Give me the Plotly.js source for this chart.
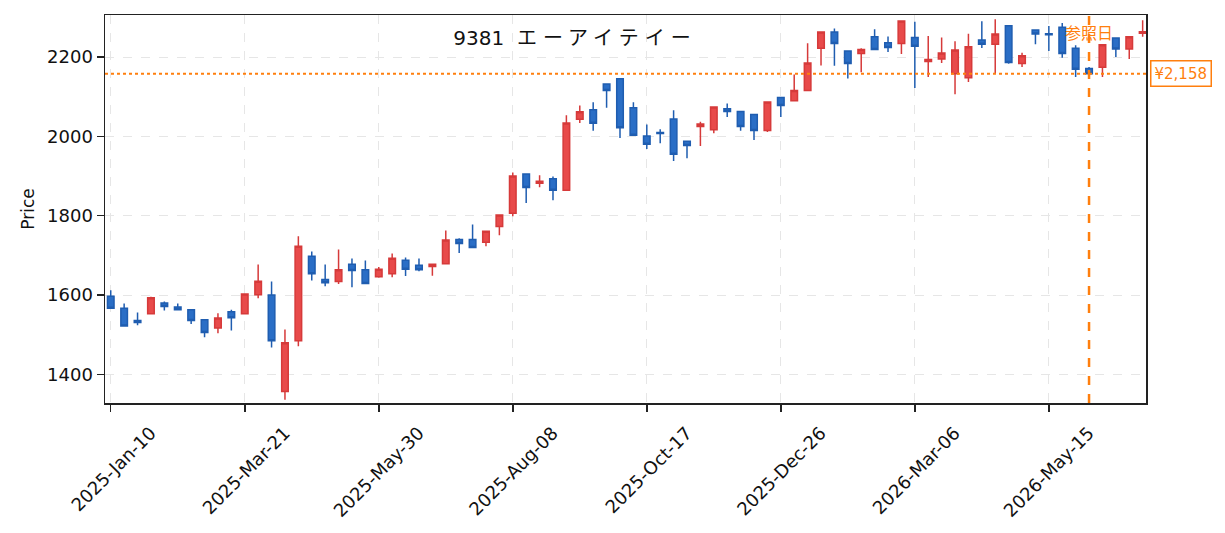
<!DOCTYPE html>
<html>
<head>
<meta charset="utf-8">
<script src="https://cdn.plot.ly/plotly-3.0.1.min.js"></script>
<style>
  html, body { margin: 0; padding: 0; background: #fff; }
  #chart { width: 1225px; height: 533px; }
</style>
</head>
<body>
<div id="chart"></div>
<script>
// Weekly candles, 9381 エーアイテイー
const dates = [
  '2025-01-10', '2025-01-17', '2025-01-24', '2025-01-31', '2025-02-07', '2025-02-14', '2025-02-21', '2025-02-28',
  '2025-03-07', '2025-03-14', '2025-03-21', '2025-03-28', '2025-04-04', '2025-04-11', '2025-04-18', '2025-04-25',
  '2025-05-02', '2025-05-09', '2025-05-16', '2025-05-23', '2025-05-30', '2025-06-06', '2025-06-13', '2025-06-20',
  '2025-06-27', '2025-07-04', '2025-07-11', '2025-07-18', '2025-07-25', '2025-08-01', '2025-08-08', '2025-08-15',
  '2025-08-22', '2025-08-29', '2025-09-05', '2025-09-12', '2025-09-19', '2025-09-26', '2025-10-03', '2025-10-10',
  '2025-10-17', '2025-10-24', '2025-10-31', '2025-11-07', '2025-11-14', '2025-11-21', '2025-11-28', '2025-12-05',
  '2025-12-12', '2025-12-19', '2025-12-26', '2026-01-02', '2026-01-09', '2026-01-16', '2026-01-23', '2026-01-30',
  '2026-02-06', '2026-02-13', '2026-02-20', '2026-02-27', '2026-03-06', '2026-03-13', '2026-03-20', '2026-03-27',
  '2026-04-03', '2026-04-10', '2026-04-17', '2026-04-24', '2026-05-01', '2026-05-08', '2026-05-15', '2026-05-22',
  '2026-05-29', '2026-06-05', '2026-06-12', '2026-06-19', '2026-06-26', '2026-07-03'
];

const open = [
  1597, 1567, 1536, 1553, 1580, 1570, 1563, 1538, 1517, 1558, 1553, 1601, 1600, 1357, 1485, 1698,
  1639, 1634, 1678, 1664, 1646, 1654, 1688, 1675, 1672, 1679, 1740, 1740, 1733, 1773, 1806, 1905,
  1882, 1893, 1864, 2043, 2067, 2132, 2145, 2072, 2001, 2010, 2044, 1988, 2025, 2017, 2070, 2063,
  2055, 2015, 2098, 2090, 2116, 2222, 2263, 2215, 2209, 2251, 2236, 2234, 2249, 2189, 2195, 2158,
  2148, 2243, 2232, 2279, 2184, 2268, 2259, 2275, 2222, 2171, 2174, 2248, 2220, 2260
];
const high = [
  1612, 1579, 1556, 1596, 1584, 1579, 1565, 1538, 1554, 1563, 1604, 1677, 1634, 1513, 1748, 1710,
  1677, 1715, 1692, 1687, 1671, 1705, 1695, 1692, 1678, 1763, 1743, 1778, 1762, 1802, 1909, 1905,
  1902, 1899, 2053, 2078, 2086, 2132, 2145, 2086, 2030, 2018, 2066, 1989, 2037, 2075, 2083, 2063,
  2055, 2087, 2098, 2156, 2235, 2264, 2272, 2216, 2222, 2270, 2252, 2292, 2289, 2253, 2249, 2240,
  2259, 2290, 2295, 2279, 2211, 2269, 2278, 2286, 2230, 2175, 2231, 2249, 2251, 2293
];
const low = [
  1566, 1521, 1524, 1552, 1561, 1562, 1527, 1494, 1504, 1511, 1552, 1592, 1468, 1336, 1471, 1637,
  1622, 1628, 1620, 1629, 1644, 1645, 1648, 1660, 1649, 1679, 1706, 1720, 1723, 1751, 1799, 1832,
  1872, 1839, 1863, 2034, 2014, 2072, 1996, 2003, 1968, 1983, 1938, 1945, 1976, 2008, 2049, 2014,
  1991, 2011, 2049, 2090, 2115, 2179, 2178, 2146, 2162, 2219, 2213, 2208, 2122, 2150, 2185, 2106,
  2137, 2223, 2158, 2183, 2175, 2232, 2215, 2198, 2150, 2147, 2150, 2200, 2195, 2251
];
const close = [
  1567, 1522, 1531, 1593, 1571, 1563, 1536, 1506, 1542, 1543, 1603, 1635, 1485, 1480, 1723, 1654,
  1631, 1664, 1662, 1629, 1665, 1693, 1665, 1664, 1678, 1739, 1730, 1720, 1761, 1802, 1900, 1871,
  1887, 1864, 2034, 2062, 2033, 2116, 2022, 2003, 1980, 2007, 1955, 1977, 2031, 2074, 2063, 2025,
  2015, 2087, 2078, 2116, 2185, 2263, 2234, 2184, 2219, 2219, 2224, 2291, 2227, 2194, 2210, 2218,
  2226, 2232, 2258, 2186, 2203, 2258, 2256, 2209, 2169, 2158, 2231, 2220, 2251, 2264
];

const tickDates = ['2025-01-10', '2025-03-21', '2025-05-30', '2025-08-08', '2025-10-17', '2025-12-26', '2026-03-06', '2026-05-15'];
const priceTicks = [1400, 1600, 1800, 2000, 2200];
const refDate = '2026-06-05';
const refPrice = 2158;
const refLabel = '¥2,158';
const ticker = '9381';
const companyName = 'エーアイテイー';

const FONT = '"DejaVu Sans", "Noto Sans CJK JP", sans-serif';
const CJK = '"Noto Sans CJK JP", "DejaVu Sans", sans-serif';
const ORANGE = '#ff7f0e';

const trace = {
    type: 'candlestick',
    x: dates,
    open: open,
    high: high,
    low: low,
    close: close,
    increasing: { line: { color: '#d63a3a', width: 1.5 }, fillcolor: '#e84a4a' },
    decreasing: { line: { color: '#1f5db0', width: 1.5 }, fillcolor: '#2a6ec6' },
    whiskerwidth: 0,
    hoverinfo: 'skip',
    showlegend: false
};

const axisStyle = {
    ticks: 'outside',
    ticklen: 7,
    tickwidth: 1.5,
    tickcolor: '#222',
    showline: true,
    mirror: true,
    linecolor: '#222',
    linewidth: 1.5,
    showgrid: true,
    gridcolor: '#e6e6e6',
    griddash: 'dash',
    gridwidth: 1,
    zeroline: false
};

const layout = {
    width: 1225,
    height: 533,
    margin: { l: 105, r: 79, t: 15, b: 130 },
    paper_bgcolor: '#ffffff',
    plot_bgcolor: '#ffffff',
    font: { family: FONT, color: '#111', size: 18 },
    showlegend: false,
    title: {
        text: ticker + '  <span style="letter-spacing:6px">' + companyName + '</span>',
        font: { family: FONT, size: 20, color: '#111' },
        xref: 'paper',
        x: 0.4515,
        xanchor: 'center',
        yref: 'container',
        y: 0.928,
        yanchor: 'middle'
    },
    xaxis: Object.assign({}, axisStyle, {
        type: 'date',
        range: ['2025-01-07', '2026-07-04 18:00'],
        tickvals: tickDates,
        tickformat: '%Y-%b-%d',
        tickangle: -45,
        tickfont: { size: 18 },
        ticklabelshift: 40,
        ticklabelstandoff: 4,
        rangeslider: { visible: false }
    }),
    yaxis: Object.assign({}, axisStyle, {
        range: [1328, 2306],
        tickvals: priceTicks,
        tickfont: { size: 18 },
        title: { text: 'Price', font: { size: 17 }, standoff: 8 }
    }),
    shapes: [
        {
            type: 'line', xref: 'paper', x0: 0, x1: 1, yref: 'y', y0: refPrice, y1: refPrice,
            line: { color: ORANGE, width: 2, dash: 'dot' }
        },
        {
            type: 'line', xref: 'x', x0: refDate, x1: refDate, yref: 'paper', y0: 0, y1: 1,
            line: { color: ORANGE, width: 2.5, dash: 'dash' }
        }
    ],
    annotations: [
        {
            text: '参照日', xref: 'x', x: refDate, yref: 'paper', y: 0.955,
            xanchor: 'center', yanchor: 'middle', showarrow: false,
            font: { family: CJK, size: 16, color: ORANGE }
        },
        {
            text: refLabel, xref: 'paper', x: 1, xshift: 4, yref: 'y', y: refPrice,
            xanchor: 'left', yanchor: 'middle', showarrow: false,
            font: { family: FONT, size: 15, color: ORANGE },
            bgcolor: '#ffffff', bordercolor: ORANGE, borderwidth: 1.5, borderpad: 3
        }
    ]
};

Plotly.newPlot('chart', [trace], layout, { displayModeBar: false, staticPlot: true });
</script>
</body>
</html>
